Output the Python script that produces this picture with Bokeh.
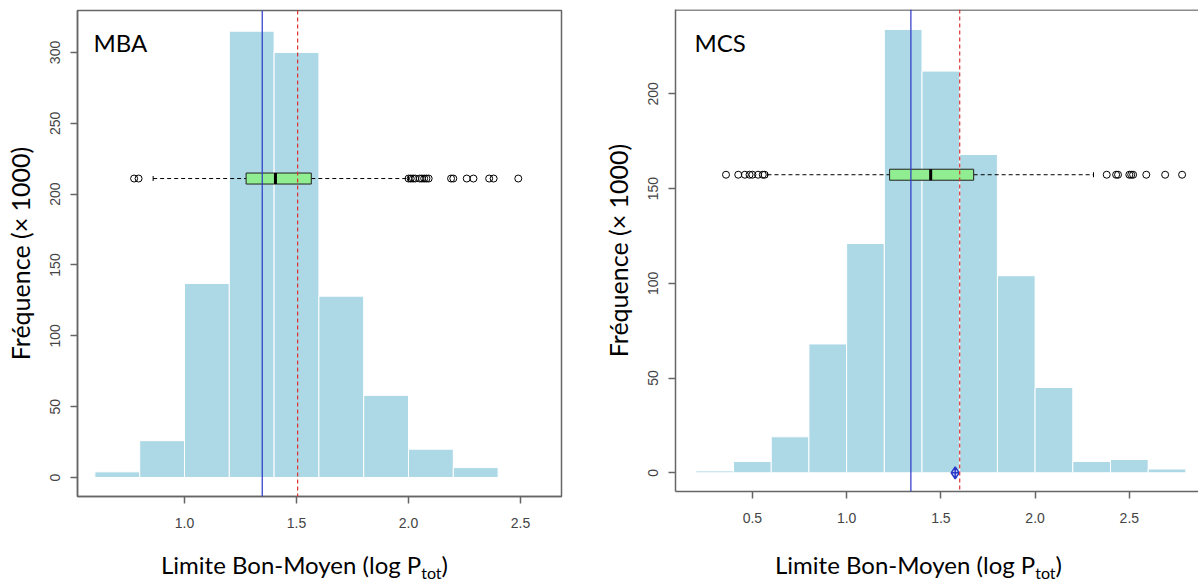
from bokeh.plotting import figure
from bokeh.models import Range1d, FixedTicker, Span, Label, NumeralTickFormatter, Div
from bokeh.layouts import row, column
from bokeh.embed import file_html
from bokeh.resources import INLINE

# ---------------- data ----------------
mba_bin_edges = [0.6, 0.8, 1.0, 1.2, 1.4, 1.6, 1.8, 2.0, 2.2, 2.4]
mba_counts = [4, 26, 137, 315, 300, 128, 58, 20, 7]
mba_box = [0.86, 1.275, 1.406, 1.566, 2.0]   # lower whisker, Q1, median, Q3, upper whisker
mba_outliers = [0.775, 0.795, 2.00, 2.01, 2.02, 2.03, 2.05, 2.06, 2.07, 2.08, 2.09,
                2.19, 2.20, 2.26, 2.29, 2.36, 2.38, 2.49]
mba_box_level = 211
mba_solid_line = 1.347
mba_dashed_line = 1.505

mcs_bin_edges = [0.2, 0.4, 0.6, 0.8, 1.0, 1.2, 1.4, 1.6, 1.8, 2.0, 2.2, 2.4, 2.6, 2.8]
mcs_counts = [1, 6, 19, 68, 121, 234, 212, 168, 104, 45, 6, 7, 2]
mcs_box = [0.58, 1.228, 1.446, 1.674, 2.31]
mcs_outliers = [0.36, 0.425, 0.46, 0.485, 0.50, 0.53, 0.555, 0.565,
                2.38, 2.43, 2.44, 2.50, 2.51, 2.52, 2.59, 2.69, 2.78]
mcs_box_level = 157.3
mcs_solid_line = 1.341
mcs_dashed_line = 1.60
mcs_marker_x = 1.576

x_ticks_mba = [1.0, 1.5, 2.0, 2.5]
x_ticks_mcs = [0.5, 1.0, 1.5, 2.0, 2.5]
y_ticks_mba = [0, 50, 100, 150, 200, 250, 300]
y_ticks_mcs = [0, 50, 100, 150, 200]

# ---------------- styles ----------------
FRAME = "#666666"
BAR = "#ADD8E6"
BOXFILL = "#90EE90"
BLUE = "#2a36c8"
RED = "#dd3333"
LABEL_FONT = "Lato"
TICK_FONT = "Liberation Sans"
FIG_H = 548


def make_panel(name, edges, counts, box, outliers, level, solid, dashed, xr, yr,
               xticks, yticks, width, mb, name_xy, marker_x=None, hide_right=False):
    p = figure(width=width, height=FIG_H, output_backend="svg", toolbar_location=None,
               x_range=Range1d(*xr), y_range=Range1d(*yr),
               min_border_left=mb[0], min_border_right=mb[1],
               min_border_top=mb[2], min_border_bottom=mb[3], frame_align=False)
    p.grid.visible = False
    p.background_fill_color = "white"
    p.border_fill_color = "white"
    if hide_right:
        p.outline_line_color = None
        p.add_layout(Span(location=yr[1] - 0.3, dimension="width",
                          line_color=FRAME, line_width=1.5))
    else:
        p.outline_line_color = FRAME
        p.outline_line_width = 1.5

    # histogram
    p.quad(left=edges[:-1], right=edges[1:], bottom=0, top=counts,
           fill_color=BAR, line_color="white", line_width=1)

    # boxplot (horizontal)
    fh = FIG_H - mb[2] - mb[3]
    ppu = fh / (yr[1] - yr[0])
    hh = 5.5 / ppu
    cap = 2.5 / ppu
    lo, q1, med, q3, hi = box
    p.segment(x0=[lo, q3], y0=[level, level], x1=[q1, hi], y1=[level, level],
              line_color="black", line_dash="4 3", line_width=1)
    p.segment(x0=[lo, hi], y0=[level - cap] * 2, x1=[lo, hi], y1=[level + cap] * 2,
              line_color="black", line_width=1)
    p.quad(left=[q1], right=[q3], bottom=[level - hh], top=[level + hh],
           fill_color=BOXFILL, line_color="#222222", line_width=1)
    p.segment(x0=[med], y0=[level - hh], x1=[med], y1=[level + hh],
              line_color="black", line_width=3)
    p.scatter(x=outliers, y=[level] * len(outliers), marker="circle", size=7,
              fill_color=None, line_color="black", line_width=1)

    if marker_x is not None:
        p.scatter(x=[marker_x], y=[0], marker="diamond_cross", size=12,
                  fill_color="#c8d8f0", line_color=BLUE, line_width=1.5)

    p.add_layout(Span(location=solid, dimension="height", line_color=BLUE, line_width=1.2))
    p.add_layout(Span(location=dashed, dimension="height", line_color=RED,
                      line_width=1.2, line_dash="4 3"))

    # axes
    for ax in (p.xaxis[0], p.yaxis[0]):
        ax.axis_line_color = FRAME
        ax.axis_line_width = 1.5
        ax.major_tick_line_color = FRAME
        ax.major_tick_line_width = 1.5
        ax.major_tick_out = 7
        ax.major_tick_in = 0
        ax.minor_tick_line_color = None
        ax.major_label_text_font = TICK_FONT
        ax.major_label_text_font_size = "14px"
        ax.major_label_text_color = "#444444"
    p.xaxis.ticker = FixedTicker(ticks=xticks)
    p.xaxis.formatter = NumeralTickFormatter(format="0.0")
    p.xaxis.major_label_standoff = 14
    p.yaxis.ticker = FixedTicker(ticks=yticks)
    p.yaxis.formatter = NumeralTickFormatter(format="0")
    p.yaxis.major_label_orientation = "vertical"
    p.yaxis.major_label_standoff = 10
    p.yaxis.axis_label = "Fréquence (× 1000)"
    p.yaxis.axis_label_text_font = LABEL_FONT
    p.yaxis.axis_label_text_font_size = "25px"
    p.yaxis.axis_label_text_font_style = "normal"
    p.yaxis.axis_label_text_color = "black"
    p.yaxis.axis_label_standoff = 13

    # panel name
    p.add_layout(Label(x=name_xy[0], y=name_xy[1], x_units="screen", y_units="screen",
                       text=name, text_font=LABEL_FONT, text_font_size="24px",
                       text_color="black", text_baseline="alphabetic"))
    return p


def xlabel_div(width, pad):
    return Div(
        text=(f'<div style="padding-left:{pad}px;white-space:nowrap;">'
              'Limite Bon-Moyen (log P<span style="font-size:16px;vertical-align:-5px;'
              'line-height:0;">tot</span>)</div>'),
        width=width, height=32,
        styles={"font-family": "Lato", "font-size": "24px", "line-height": "24px",
                "color": "black"})


p1 = make_panel("MBA", mba_bin_edges, mba_counts, mba_box, mba_outliers, mba_box_level,
                mba_solid_line, mba_dashed_line, (0.5223, 2.683), (-13.4, 329.6),
                x_ticks_mba, y_ticks_mba, 599, (77, 38, 10, FIG_H - 496),
                (16, 454))
p2 = make_panel("MCS", mcs_bin_edges, mcs_counts, mcs_box, mcs_outliers, mcs_box_level,
                mcs_solid_line, mcs_dashed_line, (0.092, 2.867), (-9.87, 244.5),
                x_ticks_mcs, y_ticks_mcs, 599, (69, 0, 9, FIG_H - 491),
                (19, 449), marker_x=mcs_marker_x, hide_right=True)

d1 = xlabel_div(599, 156)
d2 = xlabel_div(599, 161)

layout = column(row(p1, p2), row(d1, d2))
open("out.html", "w").write(file_html(layout, INLINE))
